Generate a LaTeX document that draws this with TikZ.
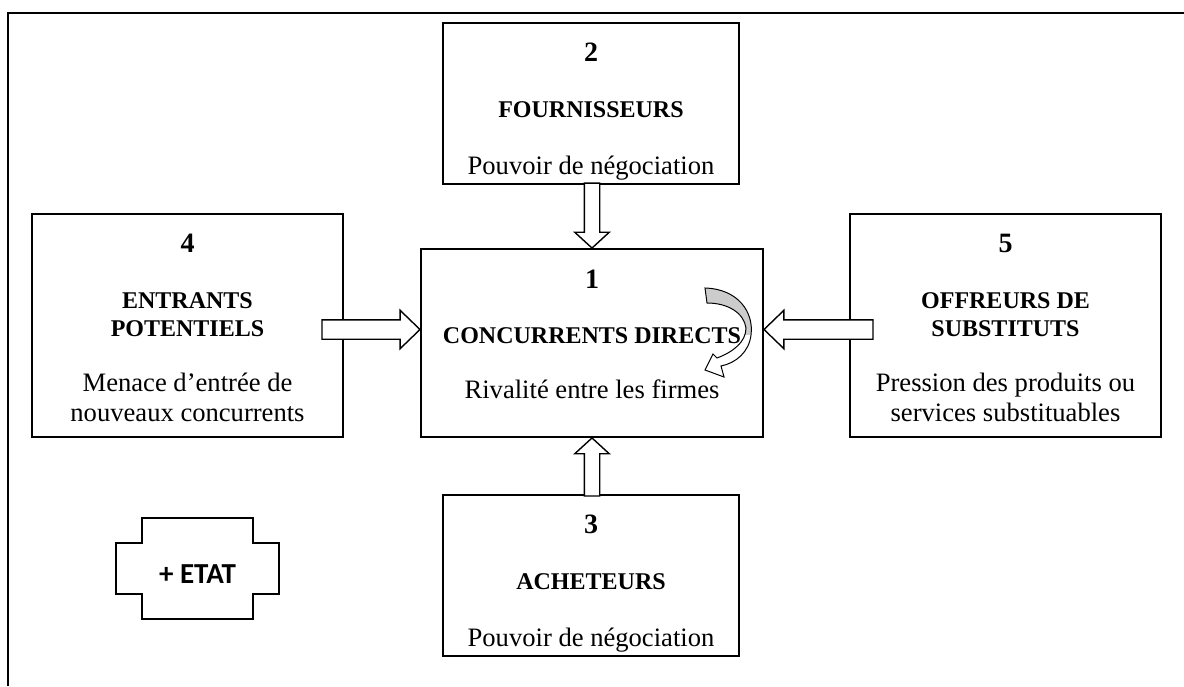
\documentclass[tikz,border=0pt]{standalone}
\usepackage{fontspec}
\setmainfont{Liberation Serif}
\newfontfamily\etatfont{Carlito}
\usetikzlibrary{shapes.arrows}

% ribbon arrow drawn inside the rivalry box
\newcommand{\rivalpath}{(705,288) .. controls (738,289) and (754,312) .. (751,335)
  .. controls (749,352) and (736,363) .. (721,366) -- (724,377) -- (705,370)
  -- (713,354) -- (717,358) .. controls (733,352) and (746,342) .. (746,328)
  .. controls (744,313) and (728,303) .. (707,303) -- cycle}

\begin{document}
\begin{tikzpicture}[x=0.5pt,y=-0.5pt,line width=0.7pt,
  force/.style={draw,rectangle,inner sep=0pt,outer sep=0pt},
  num/.style={anchor=base,inner sep=0pt,font=\fontsize{14}{16}\selectfont\bfseries},
  caps/.style={anchor=base,inner sep=0pt,font=\fontsize{12}{14}\selectfont\bfseries},
  desc/.style={anchor=base,inner sep=0pt,font=\fontsize{13.3}{15}\selectfont},
  vpush/.style={draw,fill=white,single arrow,inner sep=3.5pt,
    single arrow head extend=4.75pt,single arrow tip angle=95,anchor=tip},
  hpush/.style={draw,fill=white,single arrow,inner sep=4.5pt,
    single arrow head extend=4.75pt,single arrow tip angle=88,anchor=tip}]
  \useasboundingbox (0,0) rectangle (1184,686);
  \draw[line width=0.8pt] (1184,13) -- (8,13) -- (8,686);

  % the five forces
  \node[force,minimum width=148pt,minimum height=80.5pt] (two) at (591,103.5) {};
  \node[force,minimum width=171pt,minimum height=94pt] (one) at (592,343) {};
  \node[force,minimum width=148pt,minimum height=80.5pt] (three) at (591,575.5) {};
  \node[force,minimum width=155.5pt,minimum height=111.5pt] (four) at (187.5,325.5) {};
  \node[force,minimum width=155.5pt,minimum height=111.5pt] (five) at (1005.5,325.5) {};

  % pressure arrows towards the centre
  \node[vpush,shape border rotate=270,minimum height=32.5pt] (p2) at (one.north) {};
  \node[vpush,shape border rotate=90,minimum height=29pt] (p3) at (one.south) {};
  \node[hpush,minimum height=49pt] (p4) at (one.west |- 0,329.5) {};
  \node[hpush,shape border rotate=180,minimum height=54.5pt] (p5) at (one.east |- 0,329.5) {};

  \node[num] (n2) at ([yshift=-19.25pt]two.north) {2};
  \node[caps] (t2) at ([yshift=-47pt]two.north) {FOURNISSEURS};
  \node[desc] (d2) at ([yshift=-75.5pt]two.north) {Pouvoir de négociation};

  \node[num] (n1) at ([yshift=-19.5pt]one.north) {1};
  \node[caps] (t1) at ([yshift=-47pt]one.north) {CONCURRENTS DIRECTS};
  \node[desc] (d1) at ([yshift=-74.5pt]one.north) {Rivalité entre les firmes};

  \node[num] (n3) at ([yshift=-19.25pt]three.north) {3};
  \node[caps] (t3) at ([yshift=-47pt]three.north) {ACHETEURS};
  \node[desc] (d3) at ([yshift=-75.5pt]three.north) {Pouvoir de négociation};

  \node[num] (n4) at ([yshift=-19.25pt]four.north) {4};
  \node[caps] (t4a) at ([yshift=-47pt]four.north) {ENTRANTS};
  \node[caps] (t4b) at ([yshift=-61pt]four.north) {POTENTIELS};
  \node[desc] (d4a) at ([yshift=-88.5pt]four.north) {Menace d’entrée de};
  \node[desc] (d4b) at ([yshift=-103.5pt]four.north) {nouveaux concurrents};

  \node[num] (n5) at ([yshift=-19.25pt]five.north) {5};
  \node[caps] (t5a) at ([yshift=-47pt]five.north) {OFFREURS DE};
  \node[caps] (t5b) at ([yshift=-61pt]five.north) {SUBSTITUTS};
  \node[desc] (d5a) at ([yshift=-88.5pt]five.north) {Pression des produits ou};
  \node[desc] (d5b) at ([yshift=-103.5pt]five.north) {services substituables};

  % rivalry ribbon
  \fill[white] \rivalpath;
  \begin{scope}
    \clip (690,280) rectangle (760,334);
    \fill[gray!40] \rivalpath;
  \end{scope}
  \draw[line width=0.5pt] \rivalpath;

  % state
  \draw (142,518) -- (253,518) -- (253,543) -- (279,543) -- (279,594) -- (253,594)
    -- (253,619) -- (142,619) -- (142,594) -- (116,594) -- (116,543) -- (142,543) -- cycle;
  \node[anchor=base,inner sep=0pt,font=\etatfont\fontsize{14.5}{16}\selectfont\bfseries]
    (etat) at (197.5,583.3) {+ ETAT};
\end{tikzpicture}
\end{document}
